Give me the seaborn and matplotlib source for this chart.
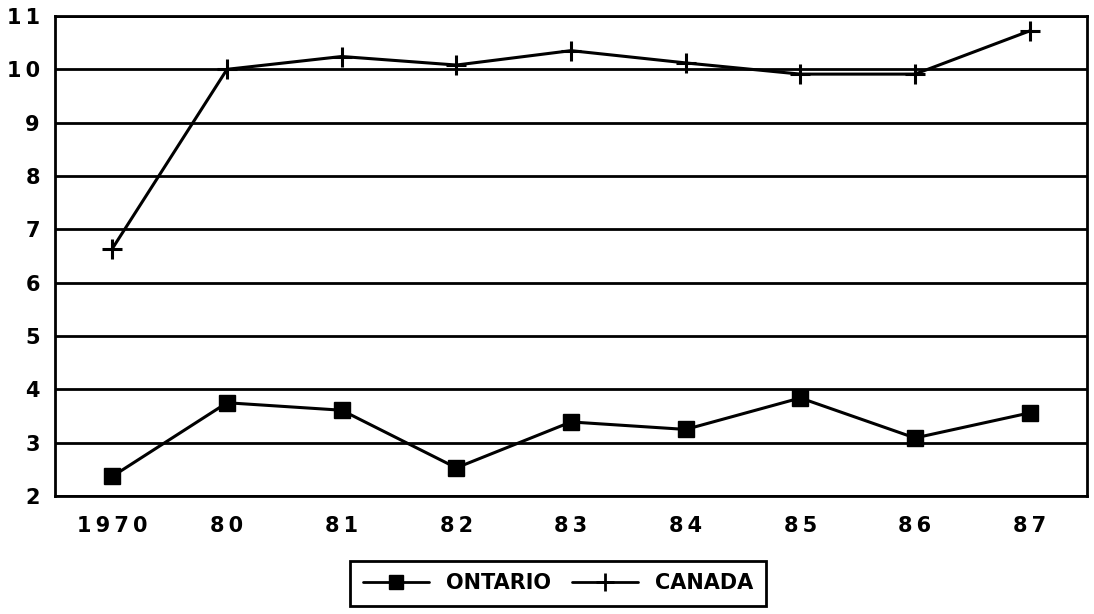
import matplotlib.pyplot as plt
import seaborn as sns
from matplotlib.lines import Line2D

# ----------------------------------------------------------
# Data
# ----------------------------------------------------------
years = ["1970", "80", "81", "82", "83", "84", "85", "86", "87"]
ontario = [2.37, 3.75, 3.61, 2.53, 3.39, 3.25, 3.84, 3.09, 3.56]
canada = [6.64, 10.0, 10.24, 10.08, 10.35, 10.12, 9.91, 9.91, 10.72]
y_ticks = list(range(2, 12))

sns.set_style("white")
plt.rcParams["font.family"] = ["DejaVu Sans"]
plt.rcParams["text.color"] = "black"
plt.rcParams["xtick.color"] = "black"
plt.rcParams["ytick.color"] = "black"

fig = plt.figure(figsize=(10.94, 6.14), dpi=100)
ax = fig.add_axes([0.0503, 0.192, 0.9433, 0.782])

# Ontario: filled squares, Canada: plus signs
sns.lineplot(x=years, y=ontario, color="black", marker="s", markersize=11,
             markeredgecolor="black", markeredgewidth=1, linewidth=2.2,
             sort=False, ax=ax)
sns.lineplot(x=years, y=canada, color="black", marker="+", markersize=14,
             markeredgecolor="black", markeredgewidth=2.2, linewidth=2.2,
             sort=False, ax=ax)

ax.set_xlim(-0.5, len(years) - 0.5)
ax.set_ylim(2, 11)
ax.set_yticks(y_ticks)
ax.set_xticks(range(len(years)))
sp = "\u2009"
ax.set_xticklabels([sp.join(y) for y in years])
ax.set_yticklabels([sp.join(str(v)) for v in y_ticks])
ax.grid(axis="y", color="black", linewidth=2)
ax.set_xlabel("")
ax.set_ylabel("")
for s in ax.spines.values():
    s.set_color("black")
    s.set_linewidth(2)
ax.tick_params(axis="both", direction="out", length=8, width=2, color="black",
               labelsize=15, labelcolor="black", pad=3)
ax.tick_params(axis="x", pad=6)
for lab in ax.get_xticklabels() + ax.get_yticklabels():
    lab.set_fontweight("bold")

# legend
handles = [
    Line2D([], [], color="black", marker="s", markersize=10, linewidth=2),
    Line2D([], [], color="black", marker="+", markersize=13, markeredgewidth=2, linewidth=2),
]
leg = fig.legend(handles, ["ONTARIO", "CANADA"], loc="center",
                 bbox_to_anchor=(0.51, 0.05), ncol=2, frameon=True,
                 fancybox=False, handlelength=3.2,
                 columnspacing=1.0, borderpad=0.6,
                 prop={"weight": "bold", "size": 15})
frame = leg.get_frame()
frame.set_edgecolor("black")
frame.set_linewidth(2)
frame.set_alpha(1)
for t in leg.get_texts():
    t.set_color("black")

plt.savefig("out.png", dpi=100)
